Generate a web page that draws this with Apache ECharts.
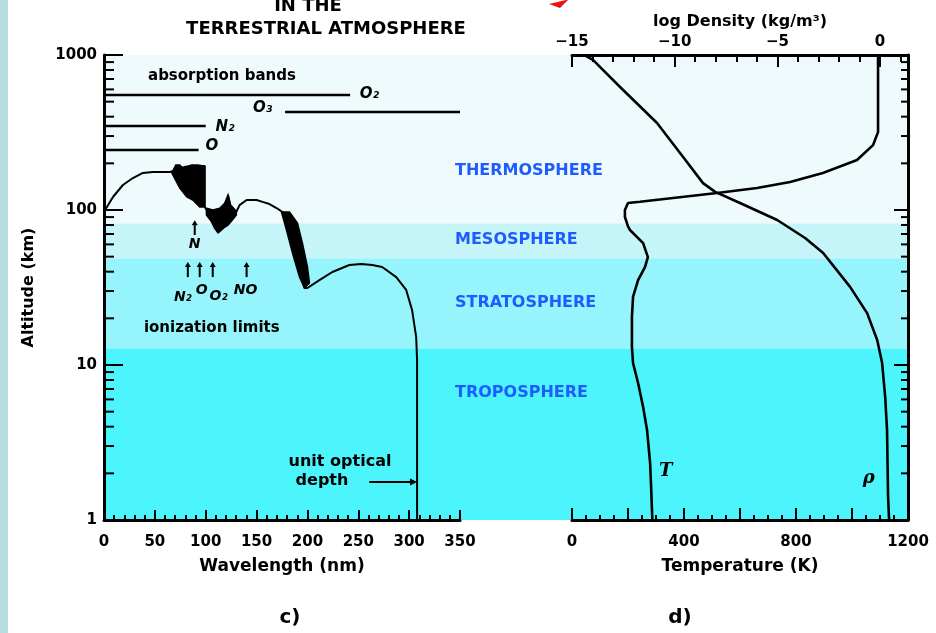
<!DOCTYPE html>
<html>
<head>
<meta charset="utf-8">
<script src="https://cdn.jsdelivr.net/npm/echarts@6/dist/echarts.min.js"></script>
<style>
html, body { margin: 0; padding: 0; background: #ffffff; }
#chart { width: 936px; height: 633px; }
</style>
</head>
<body>
<div id="chart"></div>
<script>
// Atmospheric layers (altitude edges in km) and their fill colours
const layerEdgesKm = [1, 12.7, 48.8, 82, 1000];
const layerColors = ['#4cf4fc', '#96f5fc', '#c6f5f9', '#eefafc'];
const layerNames = ['TROPOSPHERE', 'STRATOSPHERE', 'MESOSPHERE', 'THERMOSPHERE'];
const layerLabelKm = [6.6, 25.1, 64, 178.6];

// Altitude of unit optical depth versus wavelength: [nm, km]
const unitDepthCurve = [
  [0, 99], [2.9, 104.5], [8.8, 121.3], [18.6, 145], [28.4, 160.8], [38.2, 173.4],
  [48, 175.9], [64.7, 175.9], [70, 180], [80, 190], [99, 192], [99, 104.5],
  [101, 100], [103.9, 90.1], [108.8, 83.7], [112.1, 71.4], [117, 76.2], [121.9, 90],
  [121.9, 125.1], [124.2, 107.6], [130.1, 97.5], [133.3, 107.6], [140.2, 116.1],
  [150, 116.1], [155.9, 112.8], [162.7, 109.3], [169.6, 103], [175.5, 97.1],
  [185, 60], [197.1, 31.4], [200, 31.4], [211.8, 35.3], [224.5, 39.8], [241.2, 44.2],
  [252.9, 44.9], [263.7, 44.2], [273.5, 42.9], [287.3, 36.9], [297.1, 30.5],
  [302.9, 22.6], [306.9, 15.2], [307.8, 10.8], [307.8, 1]
];

// Densely structured band systems, filled solid: [nm, km]
const bandSystemA = [
  [66.7, 173.4], [70.6, 195], [74.5, 195], [77.5, 186.7], [86.3, 195], [92.2, 195],
  [99, 192], [99, 104.5], [94.1, 104.5], [87.3, 116], [81.4, 121.3], [74.5, 138.7]
];
const bandSystemB = [
  [100.7, 102.6], [107.2, 100], [113.7, 102.6], [118.6, 110.5], [121.9, 125.1],
  [124.2, 107.6], [130.1, 97.5], [130.1, 92.9], [126.2, 86.1], [121.9, 79.9],
  [117, 76.2], [112.1, 71.4], [108.8, 76.2], [105.6, 84.1], [100.7, 92.9]
];
const bandSystemC = [
  [174.5, 97.1], [179.4, 74.3], [185.3, 52.8], [192.2, 36.9], [197.1, 31.4],
  [202, 33.8], [200, 42.9], [195.1, 61.2], [190.2, 82.4], [182.4, 97.1]
];

// Absorption band ranges
const absorberNames = ['O\u2082', 'O\u2083', 'N\u2082', 'O'];
const absorberStartNm = [0, 178, 0, 0];
const absorberEndNm = [242, 350, 100, 93];
const absorberKm = [552, 429, 348, 244];
const absorberLabelNm = [261, 156, 119, 106];
const absorberLabelKm = [560, 455, 343, 259];

// Ionization limits
const ionNames = ['N\u2082', 'O', 'O\u2082', 'NO'];
const ionArrowNm = [82.4, 94.1, 106.9, 140.2];
const ionLabelNm = [77.5, 96, 112.7, 139.2];
const ionLabelKm = [27.5, 30.5, 27.9, 30.5];

// Temperature profile
const tempAltKm = [1, 1.73, 2.33, 3.81, 5.36, 7.65, 10.3, 13.1, 20.4, 27.5, 35.3, 42.9, 49.7,
  61.2, 74.3, 78.3, 90.1, 100, 111, 113, 119.5, 128.8, 138.7, 151.6, 173.4, 210, 262, 318, 1000];
const tempK = [287, 282, 279, 268, 254, 236, 218, 214, 214, 218, 236, 261, 271,
  254, 207, 200, 189, 189, 200, 243, 361, 518, 661, 779, 896, 1018, 1075, 1093, 1093];

// Density profile (log10 of kg/m^3)
const densAltKm = [1, 1.41, 3.8, 6.2, 10.3, 14.5, 21.6, 31.9, 52.8, 66, 86.2, 111, 131, 149,
  220, 364, 622, 930, 1000];
const logDensity = [0.44, 0.39, 0.34, 0.25, 0.10, -0.14, -0.63, -1.46, -2.77, -3.65, -5.01,
  -6.82, -8.03, -8.62, -9.59, -10.86, -12.66, -13.98, -14.4];

// Log-axis minor tick positions
const minorTickKm = [2, 3, 4, 5, 6, 7, 8, 9, 20, 30, 40, 50, 60, 70, 80, 90,
  200, 300, 400, 500, 600, 700, 800, 900];

const FONT = 'DejaVu Sans';
const BLACK = '#000000';

const chart = echarts.init(document.getElementById('chart'), null, { renderer: 'canvas' });

const tickTextStyle = { color: BLACK, fontFamily: FONT, fontWeight: 'bold', fontSize: 15 };
const nameTextStyle = { color: BLACK, fontFamily: FONT, fontWeight: 'bold', fontSize: 16 };

function minus(v) { return v < 0 ? '\u2212' + (-v) : String(v); }

function minorTickSeries(xi, yi, xVal, dir, len) {
  return {
    type: 'custom', xAxisIndex: xi, yAxisIndex: yi, z: 6, silent: true, clip: false,
    data: minorTickKm.map(k => [xVal, k]),
    renderItem: (params, api) => {
      const p = api.coord([api.value(0), api.value(1)]);
      return { type: 'line', shape: { x1: p[0], y1: p[1], x2: p[0] + dir * len, y2: p[1] },
        style: { stroke: BLACK, lineWidth: 2 } };
    }
  };
}

function polygonSeries(polys) {
  return {
    type: 'custom', xAxisIndex: 0, yAxisIndex: 0, z: 4, silent: true,
    data: polys.map(p => p[0]),
    renderItem: (params, api) => {
      const pts = polys[params.dataIndex].map(p => api.coord(p));
      return { type: 'polygon', shape: { points: pts },
        style: { fill: BLACK, stroke: BLACK, lineWidth: 1.5 } };
    }
  };
}

const series = [
  {
    // layer bands behind both panels
    type: 'custom', xAxisIndex: 3, yAxisIndex: 2, z: 1, silent: true,
    data: layerColors.map((c, i) => [0, layerEdgesKm[i], 1, layerEdgesKm[i + 1]]),
    renderItem: (params, api) => {
      const a = api.coord([api.value(0), api.value(1)]);
      const b = api.coord([api.value(2), api.value(3)]);
      return { type: 'rect', shape: { x: a[0], y: b[1], width: b[0] - a[0], height: a[1] - b[1] },
        style: { fill: layerColors[params.dataIndex] } };
    }
  },
  {
    type: 'line', xAxisIndex: 0, yAxisIndex: 0, z: 4, data: unitDepthCurve,
    showSymbol: false, symbol: 'none', lineStyle: { color: BLACK, width: 2 }, silent: true
  },
  polygonSeries([bandSystemA, bandSystemB, bandSystemC]),
  {
    type: 'line', xAxisIndex: 1, yAxisIndex: 1, z: 4,
    data: tempK.map((t, i) => [t, tempAltKm[i]]),
    showSymbol: false, symbol: 'none', lineStyle: { color: BLACK, width: 2.6 }, silent: true
  },
  {
    type: 'line', xAxisIndex: 2, yAxisIndex: 1, z: 4,
    data: logDensity.map((d, i) => [d, densAltKm[i]]),
    showSymbol: false, symbol: 'none', lineStyle: { color: BLACK, width: 2.6 }, silent: true
  },
  minorTickSeries(0, 0, 0, 1, 10),
  minorTickSeries(1, 1, 1200, -1, 7)
];

absorberNames.forEach((n, i) => {
  series.push({
    type: 'line', xAxisIndex: 0, yAxisIndex: 0, z: 4,
    data: [[absorberStartNm[i], absorberKm[i]], [absorberEndNm[i], absorberKm[i]]],
    showSymbol: false, symbol: 'none', lineStyle: { color: BLACK, width: 2.5 }, silent: true
  });
});

const option = {
  animation: false,
  backgroundColor: '#ffffff',
  textStyle: { fontFamily: FONT },
  grid: [
    { left: 104, top: 55, width: 356, height: 465 },
    { left: 572, top: 55, width: 336, height: 465 },
    { left: 104, top: 55, width: 804, height: 465 }
  ],
  xAxis: [
    {
      gridIndex: 0, type: 'value', position: 'bottom', min: 0, max: 350, interval: 50, z: 8,
      axisLine: { show: true, onZero: false, lineStyle: { color: BLACK, width: 3 } },
      axisTick: { show: true, inside: true, length: 10, lineStyle: { color: BLACK, width: 2 } },
      minorTick: { show: true, splitNumber: 5, length: 5, lineStyle: { color: BLACK, width: 2 } },
      splitLine: { show: false }, minorSplitLine: { show: false },
      axisLabel: Object.assign({ margin: 15 }, tickTextStyle),
      name: 'Wavelength (nm)', nameLocation: 'middle', nameGap: 38,
      nameTextStyle: Object.assign({}, nameTextStyle, { fontSize: 17 })
    },
    {
      gridIndex: 1, type: 'value', position: 'bottom', min: 0, max: 1200, interval: 200, z: 8,
      axisLine: { show: true, onZero: false, lineStyle: { color: BLACK, width: 3 } },
      axisTick: { show: true, inside: true, length: 12, lineStyle: { color: BLACK, width: 2 } },
      minorTick: { show: true, splitNumber: 4, length: 5, lineStyle: { color: BLACK, width: 2 } },
      splitLine: { show: false }, minorSplitLine: { show: false },
      axisLabel: Object.assign({ margin: 15, formatter: v => (v % 400 === 0 ? String(v) : '') }, tickTextStyle),
      name: 'Temperature (K)', nameLocation: 'middle', nameGap: 38,
      nameTextStyle: Object.assign({}, nameTextStyle, { fontSize: 17 })
    },
    {
      gridIndex: 1, type: 'value', position: 'top', min: -15, max: 1.36, interval: 5, z: 8,
      axisLine: { show: true, onZero: false, lineStyle: { color: BLACK, width: 3 } },
      axisTick: { show: true, inside: true, length: 12, lineStyle: { color: BLACK, width: 2 } },
      minorTick: { show: true, splitNumber: 5, length: 7, lineStyle: { color: BLACK, width: 2 } },
      splitLine: { show: false }, minorSplitLine: { show: false },
      axisLabel: Object.assign({ margin: 5, showMaxLabel: false,
        formatter: v => (Number.isInteger(v) && v % 5 === 0 ? minus(v) : '') }, tickTextStyle),
      name: 'log Density (kg/m\u00b3)', nameLocation: 'middle', nameGap: 24,
      nameTextStyle: nameTextStyle
    },
    { gridIndex: 2, type: 'value', min: 0, max: 1, show: false }
  ],
  yAxis: [
    {
      gridIndex: 0, type: 'log', logBase: 10, min: 1, max: 1000, position: 'left', z: 8,
      axisLine: { show: true, onZero: false, lineStyle: { color: BLACK, width: 3 } },
      axisTick: { show: true, inside: true, length: 19, lineStyle: { color: BLACK, width: 2 } },
      splitLine: { show: false }, minorTick: { show: false },
      axisLabel: Object.assign({ margin: 7, formatter: v => String(v) }, tickTextStyle),
      name: 'Altitude (km)', nameLocation: 'middle', nameGap: 67, nameRotate: 90,
      nameTextStyle: nameTextStyle
    },
    {
      gridIndex: 1, type: 'log', logBase: 10, min: 1, max: 1000, position: 'right', z: 8,
      axisLine: { show: true, onZero: false, lineStyle: { color: BLACK, width: 3 } },
      axisTick: { show: true, inside: true, length: 14, lineStyle: { color: BLACK, width: 2 } },
      splitLine: { show: false }, minorTick: { show: false },
      axisLabel: { show: false }
    },
    { gridIndex: 2, type: 'log', logBase: 10, min: 1, max: 1000, show: false }
  ],
  series: series
};

chart.setOption(option);

// Annotations placed through the panel scales
function toPx(panel, pt) {
  return chart.convertToPixel({ xAxisIndex: panel, yAxisIndex: panel }, pt);
}
function font(style, size, family) {
  return style + ' ' + size + 'px "' + (family || FONT) + '"';
}
function text(x, y, str, style) {
  return {
    type: 'text', x: x, y: y, z: 20, silent: true,
    style: Object.assign({ text: str, fill: BLACK, font: font('bold', 14),
      align: 'center', verticalAlign: 'middle' }, style || {})
  };
}
function upArrow(x, yTop, yBottom, head) {
  return [
    { type: 'line', z: 20, silent: true, shape: { x1: x, y1: yBottom, x2: x, y2: yTop + head },
      style: { stroke: BLACK, lineWidth: 2 } },
    { type: 'polygon', z: 20, silent: true,
      shape: { points: [[x, yTop], [x - head * 0.6, yTop + head], [x + head * 0.6, yTop + head]] },
      style: { fill: BLACK } }
  ];
}

const g = [];
// left edge strip and top mark
g.push({ type: 'rect', z: 0, silent: true, shape: { x: 0, y: 0, width: 8, height: 633 }, style: { fill: '#b7dfe2' } });
g.push({ type: 'polygon', z: 20, silent: true,
  shape: { points: [[549, 4], [566, 0], [568, 0], [560, 8]] }, style: { fill: '#f01010' } });

// titles
g.push(text(308, 6, 'IN THE', { font: font('bold', 18) }));
g.push(text(326, 29, 'TERRESTRIAL ATMOSPHERE', { font: font('bold', 18) }));

// layer names
layerNames.forEach((n, i) => {
  const y = chart.convertToPixel({ xAxisIndex: 3, yAxisIndex: 2 }, [0, layerLabelKm[i]])[1];
  g.push(text(455, y, n, { align: 'left', fill: '#1f5cff', font: font('bold', 16) }));
});

// absorption band labels
let p = toPx(0, [116, 732]);
g.push(text(p[0], p[1], 'absorption bands', { font: font('bold', 15) }));
absorberNames.forEach((n, i) => {
  const q = toPx(0, [absorberLabelNm[i], absorberLabelKm[i]]);
  g.push(text(q[0], q[1], n, { font: font('italic bold', 15) }));
});

// ionization limits
const arrowTop = toPx(0, [0, 46.2])[1];
const arrowBottom = toPx(0, [0, 36.9])[1];
ionArrowNm.forEach(nm => {
  const x = toPx(0, [nm, 40])[0];
  upArrow(x, arrowTop, arrowBottom, 5).forEach(e => g.push(e));
});
ionNames.forEach((n, i) => {
  const q = toPx(0, [ionLabelNm[i], ionLabelKm[i]]);
  g.push(text(q[0], q[1], n, { font: font('italic bold', 14) }));
});
const nTop = toPx(0, [89.2, 86]);
const nBot = toPx(0, [89.2, 69]);
upArrow(nTop[0], nTop[1], nBot[1], 5).forEach(e => g.push(e));
p = toPx(0, [89.2, 60.4]);
g.push(text(p[0], p[1], 'N', { font: font('italic bold', 14) }));
p = toPx(0, [106, 17.3]);
g.push(text(p[0], p[1], 'ionization limits', { font: font('bold', 15) }));

// unit optical depth pointer
const ptrA = toPx(0, [260.8, 1.76]);
const ptrB = toPx(0, [307.8, 1.76]);
g.push({ type: 'line', z: 20, silent: true, shape: { x1: ptrA[0], y1: ptrA[1], x2: ptrB[0] - 5, y2: ptrB[1] },
  style: { stroke: BLACK, lineWidth: 2 } });
g.push({ type: 'polygon', z: 20, silent: true,
  shape: { points: [[ptrB[0], ptrB[1]], [ptrB[0] - 7, ptrB[1] - 3.5], [ptrB[0] - 7, ptrB[1] + 3.5]] },
  style: { fill: BLACK } });
g.push(text(340, 462, 'unit optical', { font: font('bold', 16) }));
g.push(text(322, 481, 'depth', { font: font('bold', 16) }));

// curve labels in the right panel
p = toPx(1, [335, 2.07]);
g.push(text(p[0], p[1], 'T', { font: font('italic bold', 18, 'DejaVu Serif') }));
p = chart.convertToPixel({ xAxisIndex: 2, yAxisIndex: 1 }, [-0.55, 1.87]);
g.push(text(p[0], p[1], '\u03c1', { font: font('italic bold', 18, 'DejaVu Serif') }));

// panel letters
g.push(text(290, 618, 'c)', { font: font('bold', 20) }));
g.push(text(680, 618, 'd)', { font: font('bold', 20) }));

chart.setOption({ graphic: { elements: g } });
</script>
</body>
</html>
